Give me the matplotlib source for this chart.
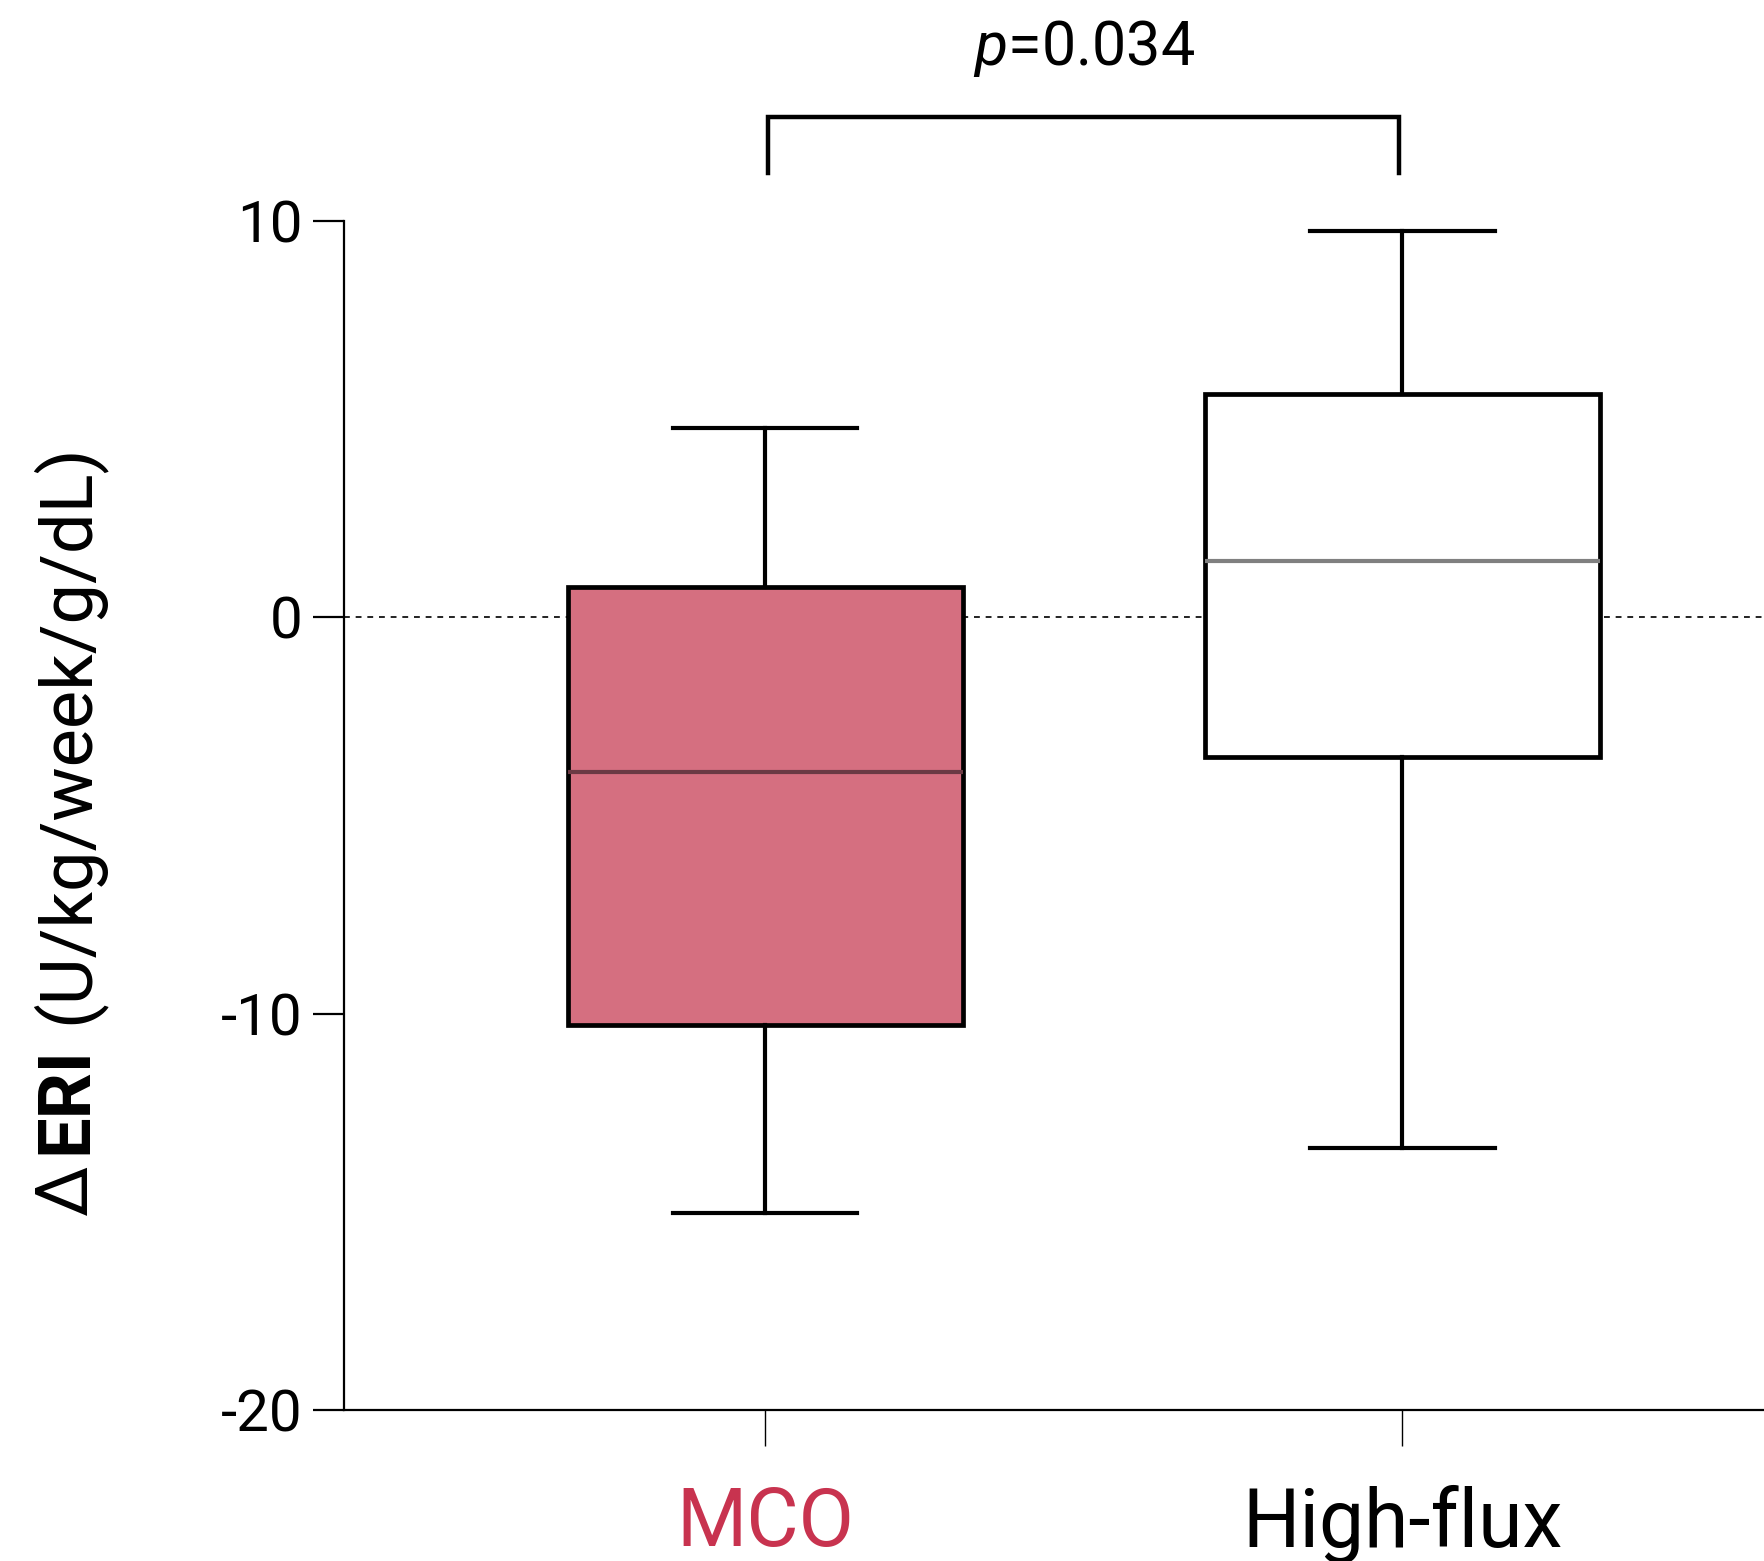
import matplotlib
matplotlib.use("Agg")
import matplotlib.pyplot as plt

plt.rcParams["font.family"] = ["Roboto", "DejaVu Sans"]
plt.rcParams["mathtext.fontset"] = "custom"
plt.rcParams["mathtext.it"] = "Roboto:italic"
plt.rcParams["mathtext.rm"] = "Roboto"
plt.rcParams["axes.unicode_minus"] = False

GROUPS = ["MCO", "High-flux"]
WHISK_LO = [-15.04, -13.39]
Q1 = [-10.3, -3.52]
MEDIAN = [-3.91, 1.42]
Q3 = [0.77, 5.62]
WHISK_HI = [4.77, 9.73]
FILLS = ["#D56F80", "#FFFFFF"]
MEDIAN_COLORS = ["#6B3A44", "#808080"]
LABEL_COLORS = ["#C8334F", "#000000"]
Y_TICKS = [-20, -10, 0, 10]
P_TEXT = "$p$=0.034"

fig = plt.figure(figsize=(8.82, 7.805), dpi=200)
ax = fig.add_axes([0.195, 0.0967, 0.805, 0.762])

ax.axhline(0, color="#222222", lw=0.7, ls=(0, (3, 3)), zorder=0)

stats = []
for i, g in enumerate(GROUPS):
    stats.append({
        "label": g,
        "whislo": WHISK_LO[i],
        "q1": Q1[i],
        "med": MEDIAN[i],
        "q3": Q3[i],
        "whishi": WHISK_HI[i],
        "fliers": [],
    })

bp = ax.bxp(
    stats,
    positions=[0, 1],
    widths=0.62,
    patch_artist=True,
    showfliers=False,
    boxprops={"linewidth": 1.7, "edgecolor": "black"},
    whiskerprops={"linewidth": 1.5, "color": "black"},
    capprops={"linewidth": 1.5, "color": "black"},
    medianprops={"linewidth": 1.5},
    capwidths=0.29,
)
for i, patch in enumerate(bp["boxes"]):
    patch.set_facecolor(FILLS[i])
    patch.set_zorder(2)
for i, med in enumerate(bp["medians"]):
    med.set_color(MEDIAN_COLORS[i])
    med.set_zorder(3)

ax.set_xlim(-0.661, 1.568)
ax.set_ylim(-20, 10)
ax.set_yticks(Y_TICKS)
ax.set_xticks([0, 1])
ax.set_xticklabels(GROUPS, fontsize=29)
for lbl, c in zip(ax.get_xticklabels(), LABEL_COLORS):
    lbl.set_color(c)

ax.tick_params(axis="y", length=11, width=0.8, pad=4, labelsize=21)
ax.tick_params(axis="x", length=13, width=0.5, pad=14)
for s in ["top", "right"]:
    ax.spines[s].set_visible(False)
for s in ["left", "bottom"]:
    ax.spines[s].set_linewidth(0.8)

# significance bracket
x0, x1 = 0.005, 0.995
ax.plot([x0, x0, x1, x1], [11.2, 12.6, 12.6, 11.2], color="black", lw=1.6,
        clip_on=False, solid_joinstyle="miter")
ax.text((x0 + x1) / 2, 14.35, P_TEXT, ha="center", va="center", fontsize=22)

# y label in three pieces: delta, bold ERI, regular units
label_x = 67 / 1764
y_pos = 1 - 1215 / 1561
pieces = [("\u0394", "normal", 10), ("ERI", "bold", 22), ("(U/kg/week/g/dL)", "normal", 0)]
fig.canvas.draw()
for txt, weight, gap in pieces:
    t = fig.text(label_x, y_pos, txt, rotation=90, fontsize=26, fontweight=weight,
                 ha="center", va="bottom")
    fig.canvas.draw()
    bb = t.get_window_extent()
    y_pos = (bb.y1 + gap) / fig.bbox.height

fig.savefig("out.png", dpi=200)
